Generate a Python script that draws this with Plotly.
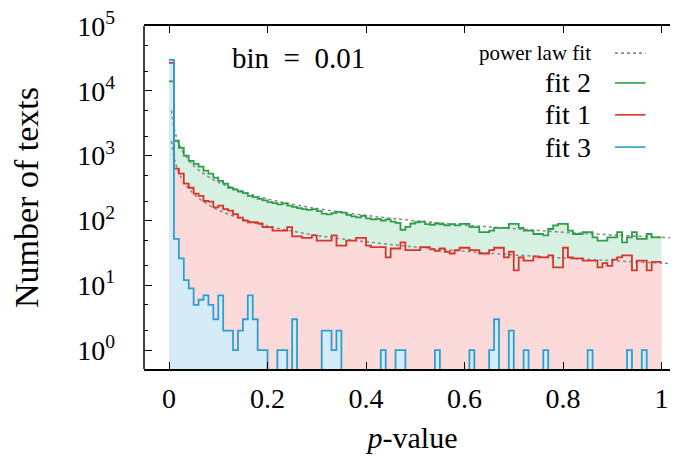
import numpy as np
import plotly.graph_objects as go

# ---------------- data ----------------
bin_width = 0.01
bin_edges = np.round(np.arange(0, 1.0 + bin_width / 2, bin_width), 2)  # 0.00 ... 1.00

fit2_counts = [14000, 1700, 1320, 1000, 830, 750, 680, 590, 530, 460,
               410, 370, 320, 300, 280, 265, 240, 230, 215, 205,
               192, 185, 178, 184, 170, 162, 155, 150, 146, 150,
               140, 128, 124, 130, 136, 132, 122, 116, 112, 118,
               108, 104, 106, 100, 104, 96, 92, 72, 80, 90,
               94, 96, 88, 86, 90, 87, 84, 88, 84, 89,
               89, 79, 79, 66, 66, 70, 77, 77, 77, 89,
               89, 77, 70, 70, 62, 62, 59, 74, 84, 89,
               89, 70, 62, 62, 66, 66, 55, 49, 49, 55,
               55, 66, 46, 55, 66, 52, 52, 62, 55, 55]

fit1_counts = [27000, 630, 530, 370, 320, 260, 240, 200, 195, 160,
               170, 150, 142, 125, 111, 100, 94, 94, 90, 79,
               79, 70, 70, 70, 79, 57, 57, 54, 54, 59,
               49, 49, 49, 59, 41, 41, 49, 49, 54, 54,
               41, 39, 39, 39, 27, 37, 37, 46, 35, 35,
               35, 39, 39, 36, 34, 37, 33, 31, 35, 38,
               38, 35, 35, 31, 31, 35, 38, 38, 27, 33,
               17, 27, 24, 24, 28, 27, 27, 29, 19, 19,
               38, 27, 26, 26, 24, 24, 24, 19, 22, 20,
               25, 27, 29, 29, 17, 24, 24, 17, 23, 23]

fit3_counts = [30000, 52, 26, 12, 9, 5, 6, 7, 5, 3,
               7, 2, 2, 1, 2, 3, 7, 3, 1, 1,
               0, 0, 1, 1, 0, 3, 0, 0, 0, 0,
               0, 2, 2, 1, 2, 0, 0, 0, 0, 0,
               0, 0, 0, 1, 0, 0, 1, 1, 0, 0,
               0, 0, 0, 0, 1, 0, 0, 0, 0, 0,
               0, 1, 0, 0, 0, 1, 3, 0, 0, 2,
               0, 0, 1, 0, 0, 0, 1, 0, 0, 0,
               0, 0, 0, 0, 0, 1, 0, 0, 0, 0,
               0, 0, 0, 1, 0, 0, 1, 0, 0, 0]

# power law fit curves
powerlaw_x = [0.005, 0.01, 0.015, 0.02, 0.03, 0.05, 0.075, 0.1, 0.15, 0.2,
              0.3, 0.4, 0.5, 0.6, 0.7, 0.8, 0.9, 1.0, 1.045]
powerlaw_fit2 = [5000, 2750, 1950, 1540, 1090, 700, 500, 390, 280, 215,
                 153, 120, 99, 85, 75, 66, 60, 55, 53]
powerlaw_fit1 = [1690, 960, 686, 543, 390, 258, 184, 145, 104, 82,
                 59, 47, 39, 33.5, 29.5, 26.4, 24, 22, 21.3]

y_tick_vals = [1, 10, 100, 1000, 10000, 100000]
y_tick_text = ["10<sup>0</sup>", "10<sup>1</sup>", "10<sup>2</sup>",
               "10<sup>3</sup>", "10<sup>4</sup>", "10<sup>5</sup>"]
x_tick_vals = [0, 0.2, 0.4, 0.6, 0.8, 1]
x_tick_text = ["0", "0.2", "0.4", "0.6", "0.8", "1"]

# ---------------- style ----------------
FONT = "Liberation Serif"
FLOOR = 0.3  # zero counts are drawn at the bottom edge (below axis range)

series = [
    ("fit 2", fit2_counts, "#2e9e48", "#d6f1e2"),
    ("fit 1", fit1_counts, "#d9342b", "#fddada"),
    ("fit 3", fit3_counts, "#2c9fd2", "#d5ecf8"),
]


def shown(v):
    return [c if c > 0 else FLOOR for c in v]


fig = go.Figure()

# filled areas (drawn first, in order green, red, blue)
for name, counts, lc, fc in series:
    vals = shown(counts)
    px, py = [bin_edges[0]], [FLOOR]
    for i, v in enumerate(vals):
        px += [bin_edges[i], bin_edges[i + 1]]
        py += [v, v]
    px.append(bin_edges[-1])
    py.append(FLOOR)
    fig.add_trace(go.Scatter(x=px, y=py, mode="lines", fill="toself",
                             fillcolor=fc, line=dict(width=0),
                             hoverinfo="skip", showlegend=False))

# power law fits (dotted grey)
for pl in (powerlaw_fit2, powerlaw_fit1):
    fig.add_trace(go.Scatter(x=powerlaw_x, y=pl, mode="lines",
                             line=dict(color="#8a8a8a", width=1.6, dash="dot",
                                       shape="spline"),
                             showlegend=False))

# step outlines
for name, counts, lc, fc in series:
    vals = shown(counts)
    fig.add_trace(go.Scatter(x=list(bin_edges), y=vals + [vals[-1]], mode="lines",
                             line=dict(color=lc, width=1.8, shape="hv"),
                             name=name, showlegend=False))

# ---------------- legend (drawn as text + samples) ----------------
leg_text_x = 0.836
leg_x0, leg_x1 = 0.877, 0.934
legend_rows = [("power law fit", 21, 0.921, "#8a8a8a", "dot"),
               ("fit 2", 28, 0.834, series[0][2], "solid"),
               ("fit 1", 28, 0.741, series[1][2], "solid"),
               ("fit 3", 28, 0.647, series[2][2], "solid")]
annotations = []
shapes = []
for txt, sz, yy, col, dash in legend_rows:
    annotations.append(dict(x=leg_text_x, y=yy, xref="paper", yref="paper",
                            text=txt, showarrow=False, xanchor="right",
                            yanchor="middle", font=dict(family=FONT, size=sz,
                                                        color="black")))
    shapes.append(dict(type="line", xref="paper", yref="paper",
                       x0=leg_x0, x1=leg_x1, y0=yy, y1=yy,
                       line=dict(color=col, width=1.6, dash=dash)))

annotations.append(dict(x=0.287, y=0.908, xref="paper", yref="paper",
                        text="bin\u2002=\u20020.01", showarrow=False,
                        xanchor="center", yanchor="middle",
                        font=dict(family=FONT, size=29, color="black")))
# left axis line
shapes.append(dict(type="line", xref="paper", yref="paper", x0=0, x1=0,
                   y0=0, y1=1, line=dict(color="black", width=1.5)))

fig.update_layout(
    width=678, height=463,
    margin=dict(l=136, r=5, t=18, b=102),
    paper_bgcolor="white", plot_bgcolor="white",
    font=dict(family=FONT, size=28, color="black"),
    annotations=annotations, shapes=shapes,
    showlegend=False,
)

fig.update_xaxes(
    range=[-0.0508, 1.0396], automargin=False,
    tickvals=x_tick_vals, ticktext=x_tick_text,
    ticks="inside", ticklen=7, tickwidth=1.2, tickcolor="black",
    showline=True, linecolor="black", linewidth=1.5, mirror="ticks",
    showgrid=False, zeroline=False,
    tickfont=dict(family=FONT, size=28),
    ticklabelstandoff=4, ticklabeloverflow="allow",
    title=dict(text="<i>p</i>-value", font=dict(family=FONT, size=30),
               standoff=14),
)

fig.update_yaxes(
    type="log", range=[-0.29, 5.0], automargin=False,
    tickvals=y_tick_vals, ticktext=y_tick_text,
    ticks="inside", ticklen=8, tickwidth=1.2, tickcolor="black",
    showline=False, mirror="ticks",
    minor=dict(ticks="inside", ticklen=4, tickcolor="black",
               tickvals=[2, 5, 20, 50, 200, 500, 2000, 5000, 20000, 50000]),
    showgrid=False, zeroline=False,
    tickfont=dict(family=FONT, size=28),
    ticklabelstandoff=28, ticklabeloverflow="allow",
    title=dict(text="Number of texts", font=dict(family=FONT, size=34),
               standoff=32),
)

fig.write_html("out.html")
